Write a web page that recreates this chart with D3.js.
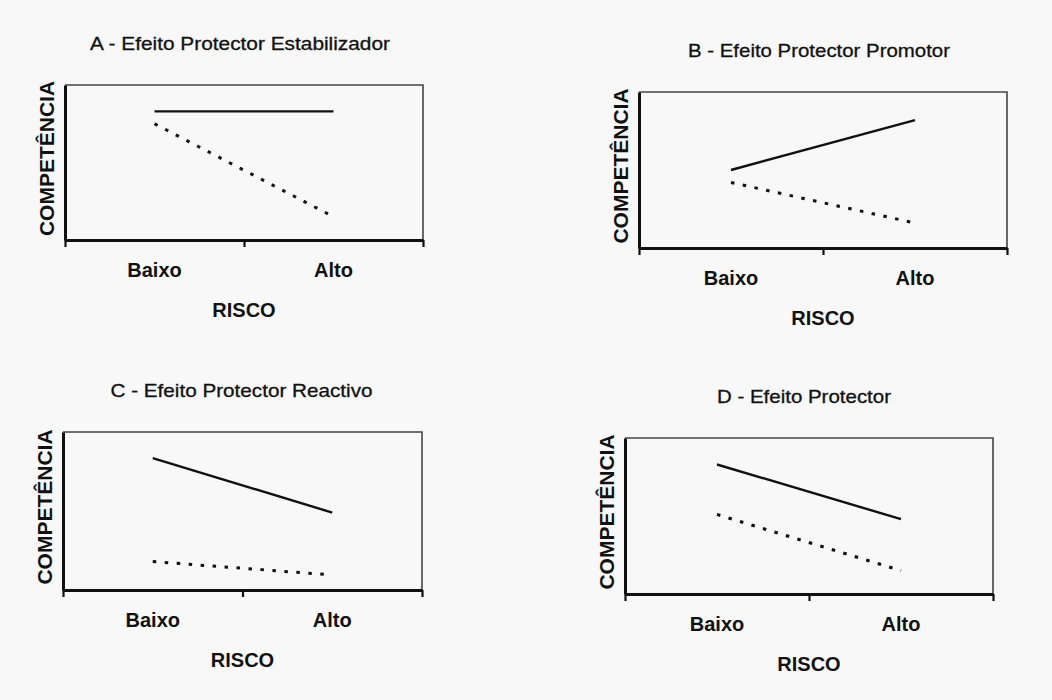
<!DOCTYPE html>
<html>
<head>
<meta charset="utf-8">
<script src="https://cdn.jsdelivr.net/npm/d3@7"></script>
<style>
  html, body { margin: 0; padding: 0; background: #f8f8f8; }
  svg { display: block; }
</style>
</head>
<body>
<svg id="chart" width="1052" height="700"></svg>
<script>
// ---- data ----
const categories = ["Baixo", "Alto"];
const panelTitles = [
  "A - Efeito Protector Estabilizador",
  "B - Efeito Protector Promotor",
  "C - Efeito Protector Reactivo",
  "D - Efeito Protector"
];
const solidValues = [
  [8.3, 8.3],
  [5.0, 8.2],
  [8.35, 4.9],
  [8.3, 4.8]
];
const dottedValues = [
  [7.5, 1.5],
  [4.2, 1.6],
  [1.8, 0.95],
  [5.1, 1.5]
];
const xAxisTitle = "RISCO";
const yAxisTitle = "COMPETÊNCIA";

// ---- layout (positions of each panel's plot box) ----
const boxes = [
  { left: 65,  top: 85,  right: 423, bottom: 240, titleW: 300, titleDx: -4 },
  { left: 639, top: 92,  right: 1007, bottom: 248, titleW: 262, titleDx: -4 },
  { left: 63,  top: 432, right: 422, bottom: 590, titleW: 262, titleDx: -1 },
  { left: 625, top: 438, right: 993, bottom: 594, titleW: 174, titleDx: -5 }
];

const svg = d3.select("#chart");
const font = "'Liberation Sans', Arial, sans-serif";

boxes.forEach((b, i) => {
  const g = svg.append("g");
  const x = d3.scaleLinear().domain([-0.5, 1.5]).range([b.left, b.right]);
  const y = d3.scaleLinear().domain([0, 10]).range([b.bottom, b.top]);

  // frame: top and right thin lines
  g.append("path")
    .attr("d", `M${b.left},${b.top}H${b.right}V${b.bottom}`)
    .attr("fill", "none").attr("stroke", "#444").attr("stroke-width", 1.6);

  // left axis
  g.append("g")
    .attr("transform", `translate(${b.left},0)`)
    .call(d3.axisLeft(y).tickValues([]).tickSizeOuter(0))
    .call(s => s.select(".domain").attr("stroke", "#111").attr("stroke-width", 3));

  // bottom axis with ticks
  g.append("g")
    .attr("transform", `translate(0,${b.bottom})`)
    .call(d3.axisBottom(x).tickValues([-0.5, 0.5, 1.5]).tickSize(7).tickSizeOuter(0).tickFormat(""))
    .call(s => {
      s.select(".domain").attr("stroke", "#111").attr("stroke-width", 3);
      s.selectAll(".tick line").attr("stroke", "#111").attr("stroke-width", 2.2);
    });

  const line = d3.line().x((d, j) => x(j)).y(d => y(d));

  g.append("path")
    .datum(solidValues[i])
    .attr("d", line)
    .attr("fill", "none").attr("stroke", "#111").attr("stroke-width", 2.4);

  g.append("path")
    .datum(dottedValues[i])
    .attr("d", line)
    .attr("fill", "none").attr("stroke", "#111").attr("stroke-width", 3)
    .attr("stroke-dasharray", "3.5,8.5");

  // title
  g.append("text")
    .attr("x", (b.left + b.right) / 2 + b.titleDx)
    .attr("y", b.top - 35)
    .attr("text-anchor", "middle")
    .attr("font-family", font)
    .attr("font-size", 18.5)
    .attr("textLength", b.titleW)
    .attr("lengthAdjust", "spacingAndGlyphs")
    .attr("fill", "#111")
    .attr("stroke", "#111").attr("stroke-width", 0.3)
    .text(panelTitles[i]);

  // category labels
  categories.forEach((c, j) => {
    g.append("text")
      .attr("x", x(j))
      .attr("y", b.bottom + 37)
      .attr("text-anchor", "middle")
      .attr("font-family", font)
      .attr("font-weight", "bold")
      .attr("font-size", 20)
      .attr("fill", "#111")
      .text(c);
  });

  // x axis title
  g.append("text")
    .attr("x", x(0.5))
    .attr("y", b.bottom + 77)
    .attr("text-anchor", "middle")
    .attr("font-family", font)
    .attr("font-weight", "bold")
    .attr("font-size", 20)
    .attr("fill", "#111")
    .text(xAxisTitle);

  // y axis title
  const cy = (b.top + b.bottom) / 2 - 4;
  g.append("text")
    .attr("transform", `translate(${b.left - 11},${cy}) rotate(-90)`)
    .attr("text-anchor", "middle")
    .attr("font-family", font)
    .attr("font-weight", "bold")
    .attr("font-size", 21)
    .attr("fill", "#111")
    .text(yAxisTitle);
});
</script>
</body>
</html>
